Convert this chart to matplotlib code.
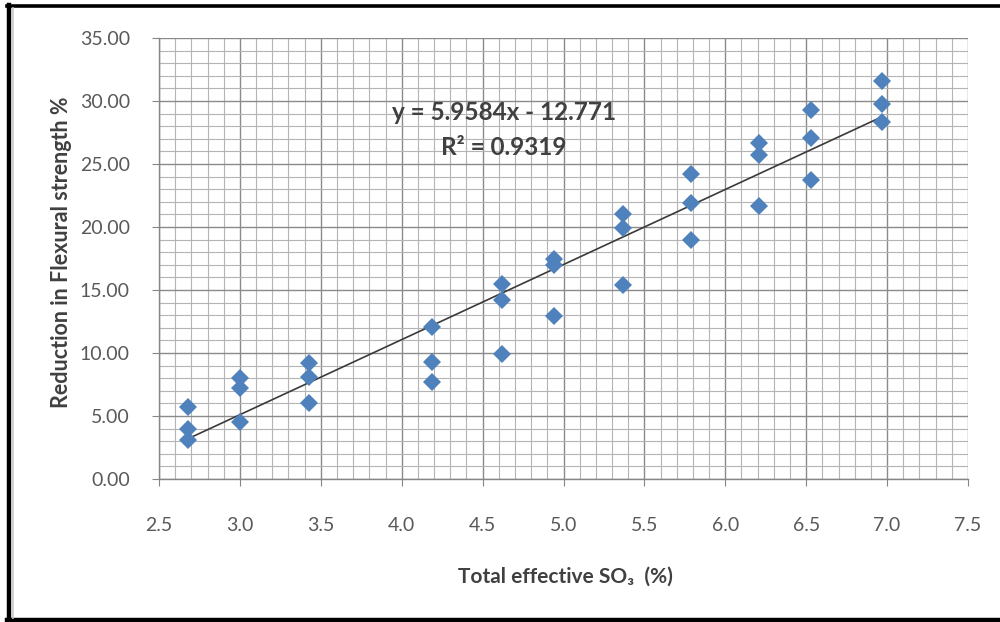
import numpy as np
import matplotlib.pyplot as plt
from matplotlib.lines import Line2D
from matplotlib.ticker import MultipleLocator, FormatStrFormatter

# total effective SO3 (%) for each test group, three specimens per group
so3 = [2.68, 2.68, 2.68,
       3.00, 3.00, 3.00,
       3.43, 3.43, 3.43,
       4.19, 4.19, 4.19,
       4.62, 4.62, 4.62,
       4.94, 4.94, 4.94,
       5.37, 5.37, 5.37,
       5.79, 5.79, 5.79,
       6.21, 6.21, 6.21,
       6.53, 6.53, 6.53,
       6.97, 6.97, 6.97]

# reduction in flexural strength (%)
reduction = [5.7, 4.0, 3.1,
             8.0, 7.2, 4.5,
             9.2, 8.1, 6.0,
             12.1, 9.3, 7.7,
             15.5, 14.2, 9.9,
             17.5, 17.0, 12.9,
             21.0, 19.9, 15.4,
             24.2, 21.9, 19.0,
             26.7, 25.7, 21.7,
             29.3, 27.1, 23.7,
             31.6, 29.8, 28.3]

# linear trend line reported on the chart
slope = 5.9584
intercept = -12.771
r2 = 0.9319

blue = '#4F81BD'
text_dark = '#404040'
tick_grey = '#595959'

fig = plt.figure(figsize=(10, 6.22), dpi=100)
ax = fig.add_axes([0.159, 0.2299, 0.809, 0.709])

ax.set_xlim(2.5, 7.5)
ax.set_ylim(0, 35)
ax.xaxis.set_major_locator(MultipleLocator(0.5))
ax.xaxis.set_minor_locator(MultipleLocator(0.1))
ax.yaxis.set_major_locator(MultipleLocator(5))
ax.yaxis.set_minor_locator(MultipleLocator(1))
ax.xaxis.set_major_formatter(FormatStrFormatter('%.1f'))
ax.yaxis.set_major_formatter(FormatStrFormatter('%.2f'))

ax.grid(which='major', color='#8a8a8a', linewidth=1.0)
ax.grid(which='minor', color='#b4b4b4', linewidth=0.8)
ax.set_axisbelow(True)

for side in ['top', 'right']:
    ax.spines[side].set_visible(False)
for side in ['left', 'bottom']:
    ax.spines[side].set_color('#868686')
    ax.spines[side].set_linewidth(1.0)

ax.tick_params(which='major', direction='out', length=5, color='#868686',
               labelsize=14, labelcolor=tick_grey)
ax.tick_params(which='minor', length=0)
ax.tick_params(axis='x', pad=22)
ax.tick_params(axis='y', pad=16)
for lab in ax.get_xticklabels() + ax.get_yticklabels():
    lab.set_family('Lato')

# trend line over the span of the data
xs = np.array([min(so3), max(so3)])
ax.plot(xs, slope * xs + intercept, color='#3a3a3a', linewidth=1.2, zorder=3)

ax.plot(so3, reduction, linestyle='none', marker='D', markersize=9,
        markerfacecolor=blue, markeredgewidth=0, zorder=4)

eq = 'y = %.4fx - %.3f' % (slope, -intercept)
ax.text(4.63, 29.1, eq, ha='center', va='center', fontsize=17.5,
        fontweight='bold', color=text_dark, family='Lato')
ax.text(4.63, 26.3, 'R² = %.4f' % r2, ha='center', va='center', fontsize=17.5,
        fontweight='bold', color=text_dark, family='Lato')

fig.text(0.565, 1 - 577 / 622, 'Total effective SO₃  (%)', ha='center',
         va='center', fontsize=15, fontweight='bold', color=text_dark,
         family=['Lato', 'DejaVu Sans'])
fig.text(0.062, 1 - 252 / 622, 'Reduction in Flexural strength %', ha='center',
         va='center', rotation=90, fontsize=15.5, fontweight='bold',
         color=text_dark, family='Lato')

# frame around the chart
fig.add_artist(Line2D([0.009, 0.009], [0.003, 0.992], color='black', linewidth=3.2))
fig.add_artist(Line2D([0.007, 1.0], [0.991, 0.991], color='black', linewidth=2.6))
fig.add_artist(Line2D([0.007, 1.0], [0.003, 0.003], color='black', linewidth=3.2))
fig.add_artist(Line2D([0.0125, 0.0125], [0.006, 0.987], color='#c8c8c8', linewidth=1.2))

fig.savefig('out.png', dpi=100)
